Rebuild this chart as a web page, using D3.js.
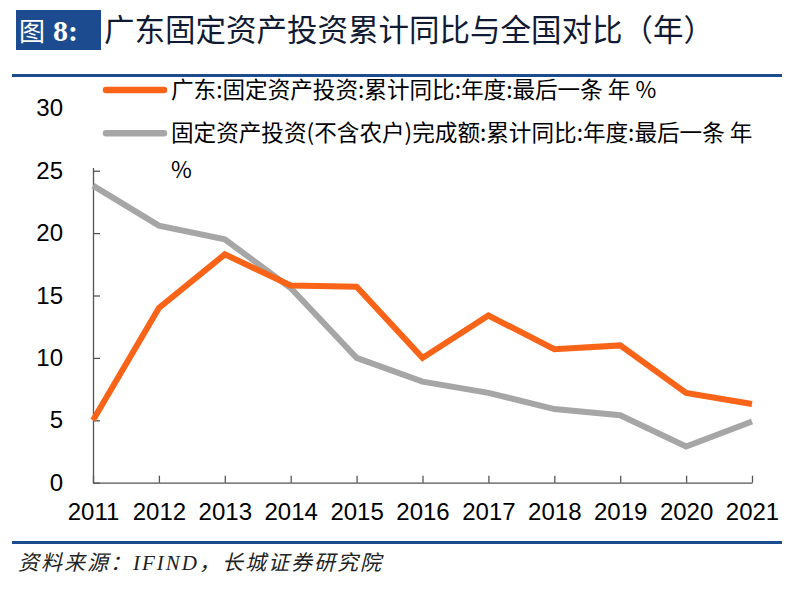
<!DOCTYPE html>
<html>
<head>
<meta charset="utf-8">
<script src="https://cdn.jsdelivr.net/npm/d3@7"></script>
<style>
  html, body { margin: 0; padding: 0; background: #fff; }
  svg { display: block; }
</style>
</head>
<body>
<svg id="chart" width="802" height="606"></svg>
<script>
const years = ["2011","2012","2013","2014","2015","2016","2017","2018","2019","2020","2021"];
const guangdong = [5.0, 14.0, 18.3, 15.8, 15.7, 10.0, 13.4, 10.7, 11.0, 7.2, 6.3];
const national = [23.8, 20.6, 19.5, 15.6, 10.0, 8.1, 7.2, 5.9, 5.4, 2.9, 4.9];
const yTicks = [0, 5, 10, 15, 20, 25, 30];
const seriesNames = ["广东:固定资产投资:累计同比:年度:最后一条 年 %", "固定资产投资(不含农户)完成额:累计同比:年度:最后一条 年"];
const seriesNameWrap = ["", "%"];
const seriesColors = ["#fa6419", "#a6a6a6"];
const titleFig = "图";
const titleNum = "8:";
const titleText = "广东固定资产投资累计同比与全国对比（年）";
const sourceText = "资料来源：IFIND，长城证券研究院";

const svg = d3.select("#chart");
const blue = "#1c4b8f";

// Title
svg.append("rect").attr("x", 16).attr("y", 10).attr("width", 85).attr("height", 40).attr("fill", blue);
svg.append("text").attr("x", 19).attr("y", 41)
  .attr("font-family", "'Noto Sans CJK SC',serif")
  .attr("font-size", 26).attr("fill", "#fff")
  .text(titleFig);
svg.append("text").attr("x", 53).attr("y", 41)
  .attr("font-family", "'Liberation Serif',serif")
  .attr("font-size", 30).attr("font-weight", "bold").attr("fill", "#fff")
  .text(titleNum);
svg.append("text").attr("x", 104).attr("y", 41)
  .attr("font-family", "'Noto Sans CJK SC',sans-serif")
  .attr("font-size", 30.5).attr("fill", "#111a33")
  .text(titleText);
svg.append("rect").attr("x", 12).attr("y", 74).attr("width", 770).attr("height", 3).attr("fill", blue);

// Footer
svg.append("rect").attr("x", 12).attr("y", 541).attr("width", 770).attr("height", 3).attr("fill", blue);
svg.append("text").attr("x", 18).attr("y", 570)
  .attr("font-family", "'Liberation Serif','Noto Sans CJK SC',serif")
  .attr("font-size", 21).attr("letter-spacing", 2).attr("font-style", "italic").attr("fill", "#222")
  .text(sourceText);

// Scales
const x = d3.scalePoint().domain(years).range([93, 752]);
const y = d3.scaleLinear().domain([0, 30]).range([482.7, 108.3]);

// Y axis
const yAxis = svg.append("g").attr("transform", "translate(93,0)")
  .call(d3.axisLeft(y).tickValues(yTicks).tickSizeInner(-7).tickSizeOuter(0).tickPadding(30));
yAxis.select(".domain").attr("stroke", "#555").attr("stroke-width", 1.3);
yAxis.selectAll(".tick line").attr("stroke", "#555").attr("stroke-width", 1.3);
yAxis.selectAll(".tick text").attr("font-family", "'Liberation Sans',Arial,sans-serif")
  .attr("font-size", 24).attr("fill", "#000");

// X axis
const xAxis = svg.append("g").attr("transform", "translate(0,482.7)")
  .call(d3.axisBottom(x).tickSizeInner(-7).tickSizeOuter(0).tickPadding(20));
xAxis.select(".domain").attr("stroke", "#555").attr("stroke-width", 1.3);
xAxis.selectAll(".tick line").attr("stroke", "#555").attr("stroke-width", 1.3);
xAxis.selectAll(".tick text").attr("font-family", "'Liberation Sans',Arial,sans-serif")
  .attr("font-size", 24).attr("fill", "#000").attr("dy", "0.35em").attr("y", 29);

// Lines
const line = d3.line().x((d, i) => x(years[i])).y(d => y(d));
[national, guangdong].forEach((s, k) => {
  svg.append("path").datum(s).attr("d", line)
    .attr("fill", "none").attr("stroke", k === 0 ? seriesColors[1] : seriesColors[0])
    .attr("stroke-width", 6).attr("stroke-linejoin", "miter");
});

// Legend (white background covering top of plot)
svg.append("rect").attr("x", 88).attr("y", 79).attr("width", 700).attr("height", 89).attr("fill", "#fff");
const legY = [90, 133.3];
seriesNames.forEach((name, i) => {
  svg.append("line").attr("x1", 106).attr("x2", 164).attr("y1", legY[i]).attr("y2", legY[i])
    .attr("stroke", seriesColors[i]).attr("stroke-width", 6.5).attr("stroke-linecap", "round");
  const t = svg.append("text").attr("x", 171).attr("y", legY[i] + 8)
    .attr("font-family", "'Noto Sans CJK SC',sans-serif").attr("font-size", 22.6).attr("fill", "#000");
  t.append("tspan").text(name);
  if (seriesNameWrap[i]) {
    t.append("tspan").attr("x", 171).attr("dy", 37).text(seriesNameWrap[i]);
  }
});
</script>
</body>
</html>
